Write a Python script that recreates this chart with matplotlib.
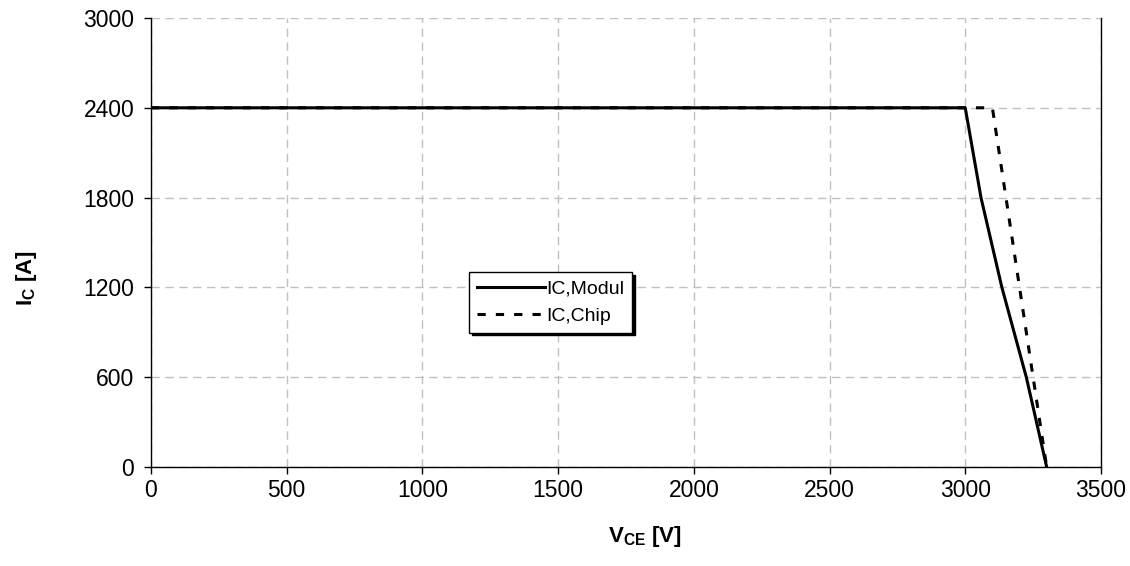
import matplotlib
matplotlib.use("Agg")
import matplotlib.pyplot as plt

plt.rcParams['font.family'] = ['Liberation Sans', 'DejaVu Sans']
plt.rcParams['mathtext.fontset'] = 'custom'
plt.rcParams['mathtext.rm'] = 'Liberation Sans'
plt.rcParams['mathtext.bf'] = 'Liberation Sans:bold'

# data
vce_modul = [0, 3000, 3058, 3135, 3225, 3300]
ic_modul = [2400, 2400, 1800, 1200, 600, 0]
vce_chip = [0, 3100, 3300]
ic_chip = [2400, 2400, 0]

x_ticks = [0, 500, 1000, 1500, 2000, 2500, 3000, 3500]
y_ticks = [0, 600, 1200, 1800, 2400, 3000]

fig = plt.figure(figsize=(11.3, 5.66), dpi=100)
ax = fig.add_axes([0.1336, 0.1749, 0.8407, 0.7933])

ax.plot(vce_chip, ic_chip, color='black', lw=2.2, ls=(0, (2.7, 3.3)),
        label='IC,Chip', zorder=3)
ax.plot(vce_modul, ic_modul, color='black', lw=2.2, label='IC,Modul', zorder=4)

ax.set_xlim(0, 3500)
ax.set_ylim(0, 3000)
ax.set_xticks(x_ticks)
ax.set_yticks(y_ticks)
ax.grid(True, color='#c0c0c0', ls=(0, (6, 4)), lw=1)
ax.set_axisbelow(True)
ax.spines['top'].set_visible(False)
for s in ['left', 'bottom', 'right']:
    ax.spines[s].set_color('black')
    ax.spines[s].set_linewidth(1)
ax.tick_params(direction='out', length=5, width=1, labelsize=16.5, colors='black')
ax.tick_params(axis='y', pad=7)

ax.set_xlabel(r'$\mathbf{V_{CE}}$ [V]', fontsize=16, fontweight='bold')
ax.set_ylabel(r'$\mathbf{I_C}$ [A]', fontsize=16, fontweight='bold')
ax.xaxis.set_label_coords(0.52, -0.128)
ax.yaxis.set_label_coords(-0.118, 0.42)

handles, labels = ax.get_legend_handles_labels()
leg = ax.legend(handles[::-1], labels[::-1], loc='upper left',
                bbox_to_anchor=(0.335, 0.434), fontsize=14, frameon=True,
                fancybox=False, edgecolor='black', framealpha=1,
                handlelength=3.5, handletextpad=0.05, borderpad=0.4,
                labelspacing=0.5, borderaxespad=0,
                shadow={'color': 'black', 'alpha': 1})
leg.get_frame().set_linewidth(1)

fig.savefig('out.png', dpi=100)
